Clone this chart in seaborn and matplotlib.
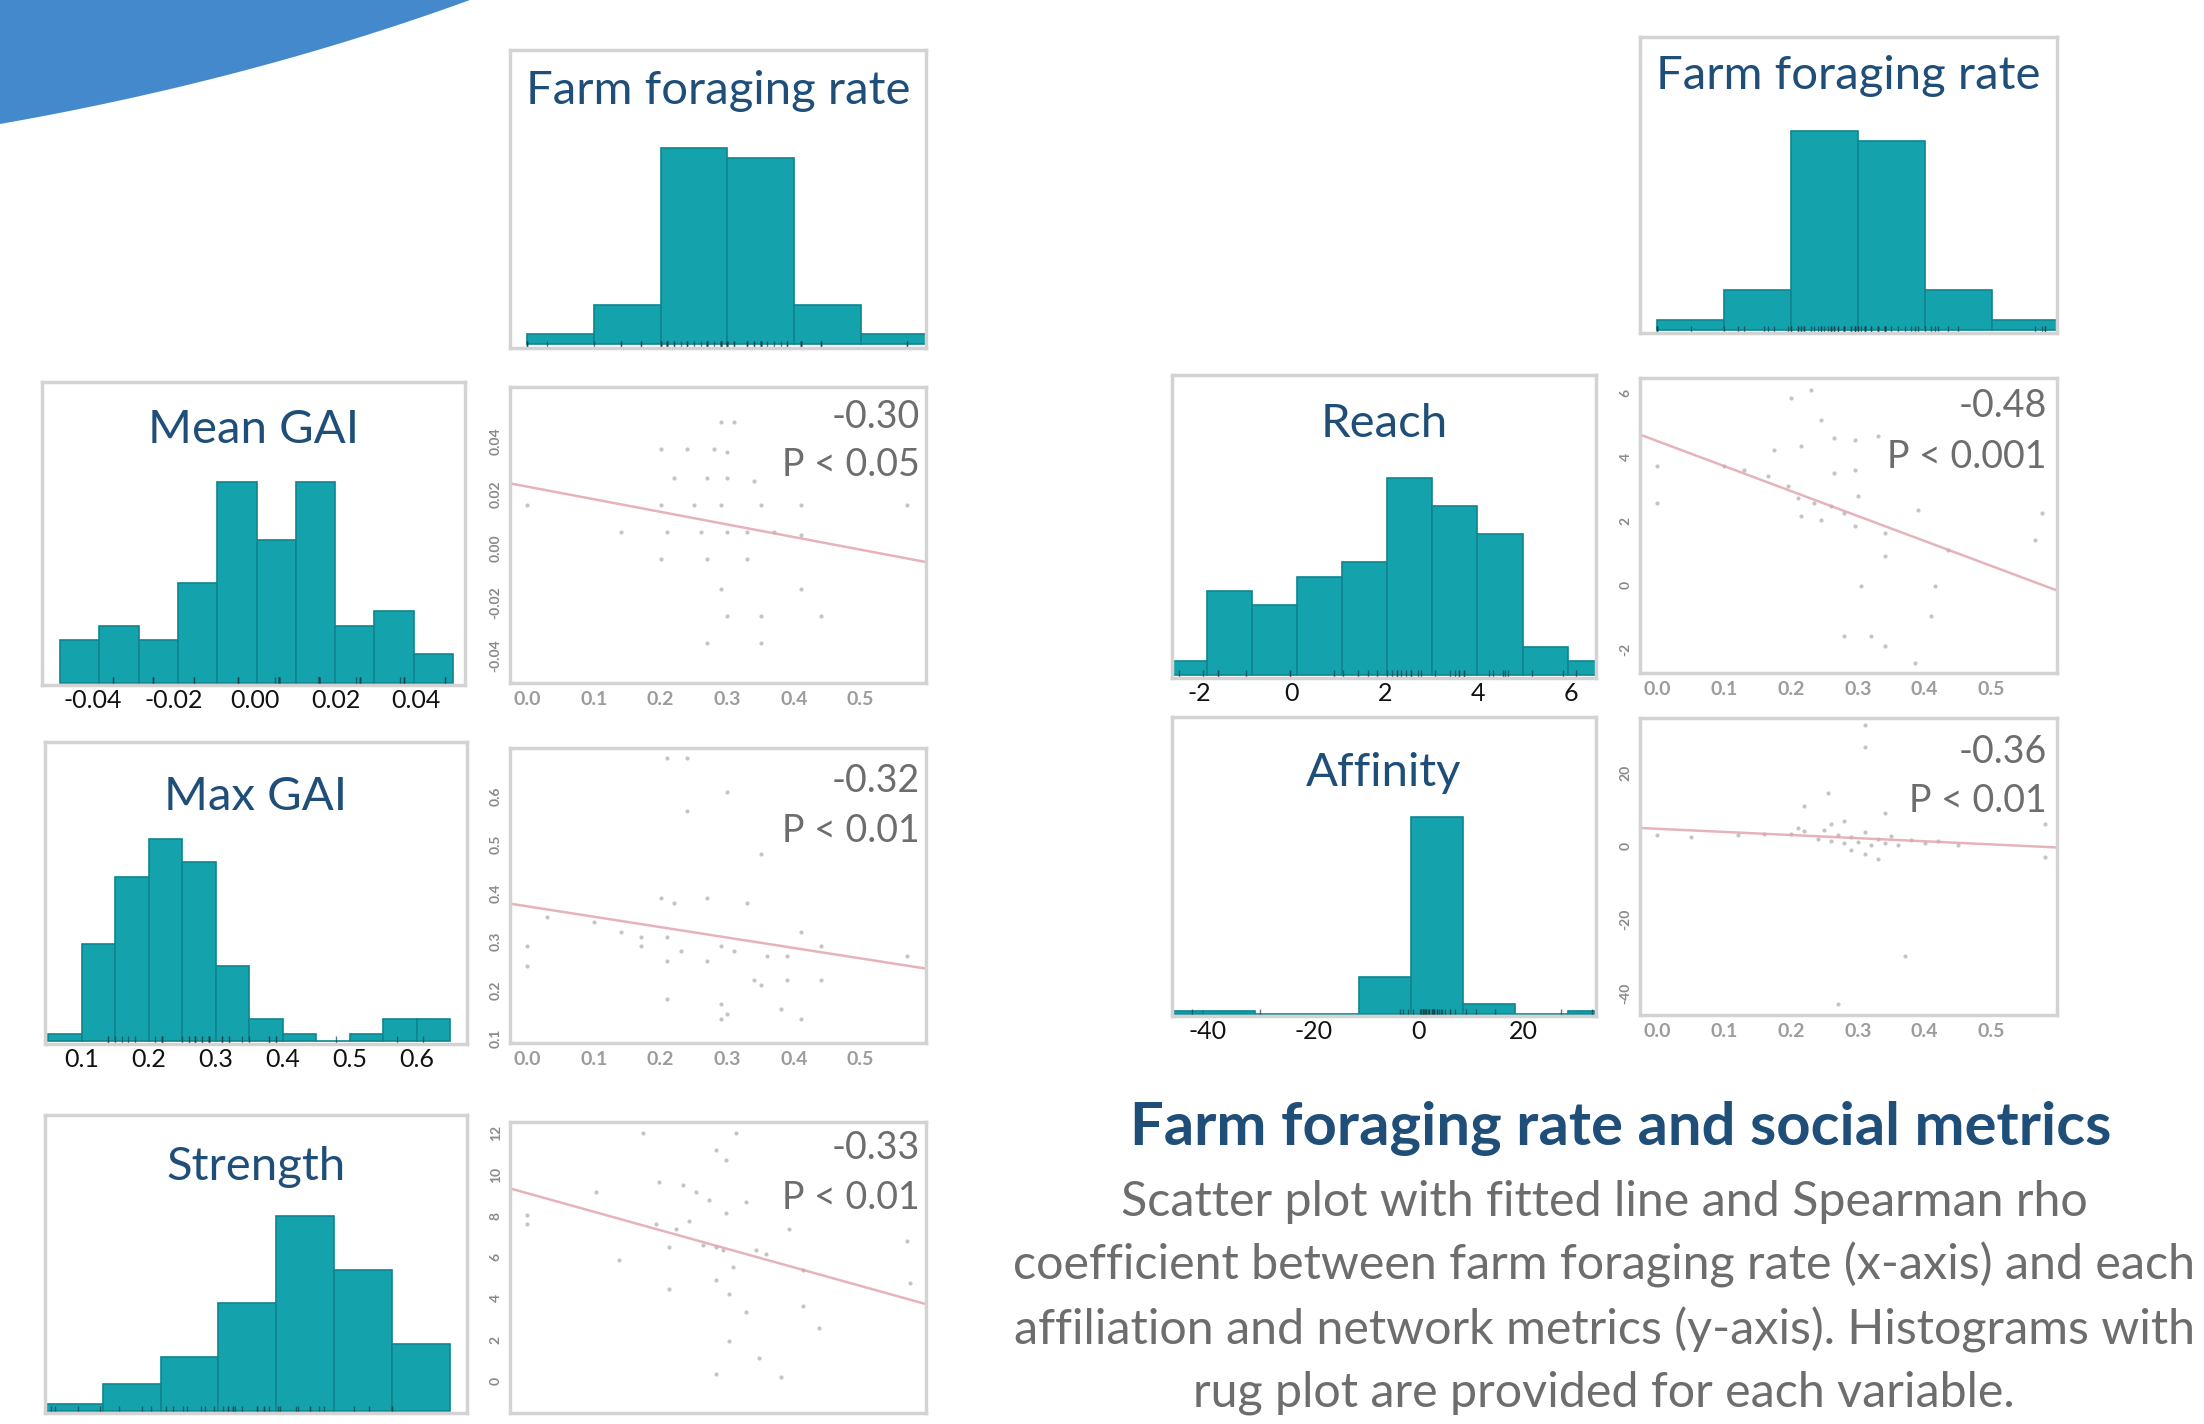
import numpy as np
import pandas as pd
import matplotlib
matplotlib.use("Agg")
import matplotlib.pyplot as plt
from matplotlib.patches import Polygon
import seaborn as sns

# ---------------- data ----------------
ffr_edges = [0.0, 0.1, 0.2, 0.3, 0.4, 0.5, 0.6]
ffr_counts = [1, 4, 20, 19, 4, 1]

mean_gai_edges = [-0.048, -0.0383, -0.0286, -0.0189, -0.0092, 0.0005, 0.0102, 0.0199, 0.0296, 0.0393, 0.049]
mean_gai_counts = [3, 4, 3, 7, 14, 10, 14, 4, 5, 2]
mean_gai_ticks = [-0.04, -0.02, 0.00, 0.02, 0.04]

max_gai_edges = [0.05, 0.10, 0.15, 0.20, 0.25, 0.30, 0.35, 0.40, 0.45, 0.50, 0.55, 0.60, 0.65]
max_gai_counts = [1, 13, 22, 27, 24, 10, 3, 1, 0, 1, 3, 3]
max_gai_ticks = [0.1, 0.2, 0.3, 0.4, 0.5, 0.6]

strength_edges = [0, 2, 4, 6, 8, 10, 12, 14]
strength_counts = [1, 4, 8, 16, 29, 21, 10]

reach_edges = [-2.8, -1.83, -0.86, 0.11, 1.08, 2.05, 3.02, 3.99, 4.96, 5.93, 6.9]
reach_counts = [1, 6, 5, 7, 8, 14, 12, 10, 2, 1]
reach_ticks = [-2, 0, 2, 4, 6]

affinity_edges = [-50.9, -41.0, -31.1, -21.2, -11.3, -1.4, 8.5, 18.4, 28.3, 38.2]
affinity_counts = [1, 1, 0, 0, 11, 59, 3, 0, 1]
affinity_ticks = [-40, -20, 0, 20]

# scatter points (farm foraging rate vs metric)
mean_gai_x = [0.29, 0.31, 0.20, 0.24, 0.28, 0.30, 0.22, 0.27, 0.30, 0.34, 0.20, 0.25, 0.29, 0.35, 0.41, 0.00, 0.57,
              0.14, 0.21, 0.26, 0.30, 0.33, 0.37, 0.41, 0.20, 0.27, 0.33, 0.29, 0.41, 0.30, 0.35, 0.44, 0.27, 0.35]
mean_gai_y = [0.047, 0.047, 0.037, 0.037, 0.037, 0.036, 0.026, 0.026, 0.026, 0.025, 0.016, 0.016, 0.016, 0.016, 0.016,
              0.016, 0.016, 0.006, 0.006, 0.006, 0.006, 0.006, 0.006, 0.005, -0.004, -0.004, -0.004, -0.015, -0.015,
              -0.025, -0.025, -0.025, -0.035, -0.035]

max_gai_x = [0.21, 0.24, 0.30, 0.24, 0.35, 0.20, 0.22, 0.27, 0.33, 0.03, 0.10, 0.14, 0.17, 0.17, 0.21, 0.23, 0.29,
             0.31, 0.41, 0.44, 0.36, 0.39, 0.00, 0.00, 0.21, 0.27, 0.34, 0.35, 0.39, 0.44, 0.57, 0.21, 0.29, 0.30,
             0.38, 0.41, 0.29]
max_gai_y = [0.68, 0.68, 0.61, 0.57, 0.48, 0.39, 0.38, 0.39, 0.38, 0.35, 0.34, 0.32, 0.31, 0.29, 0.31, 0.28, 0.29,
             0.28, 0.32, 0.29, 0.27, 0.27, 0.29, 0.25, 0.26, 0.26, 0.22, 0.21, 0.22, 0.22, 0.27, 0.18, 0.17, 0.15,
             0.16, 0.14, 0.14]

strength_x = [0.283, 0.298, 0.313, 0.173, 0.198, 0.233, 0.253, 0.273, 0.328, 0.298, 0.243, 0.193, 0.223, 0.263,
              0.283, 0.213, 0.293, 0.343, 0.358, 0.393, 0.413, 0.308, 0.213, 0.283, 0.303, 0.328, 0.413, 0.438,
              0.303, 0.348, 0.283, 0.138, 0.0, 0.0, 0.103, 0.569, 0.574, 0.381]
strength_y = [11.2, 10.7, 12.0, 12.0, 9.64, 9.48, 9.17, 8.77, 8.69, 8.14, 7.75, 7.59, 7.35, 6.57, 6.49, 6.49, 6.33,
              6.33, 6.17, 7.35, 5.39, 5.54, 4.44, 4.91, 4.2, 3.34, 3.65, 2.55, 1.92, 1.13, 0.35, 5.86, 8.06, 7.59,
              9.17, 6.8, 4.76, 0.2]

reach_x = [0.20, 0.23, 0.245, 0.265, 0.295, 0.33, 0.175, 0.215, 0.10, 0.13, 0.165, 0.195, 0.21, 0.235, 0.26, 0.28,
           0.295, 0.30, 0.265, 0.295, 0.215, 0.245, 0.34, 0.34, 0.305, 0.415, 0.435, 0.41, 0.28, 0.32, 0.34, 0.385,
           0.0, 0.0, 0.575, 0.565, 0.39]
reach_y = [5.84, 6.1, 5.17, 4.59, 4.54, 4.65, 4.23, 4.33, 3.71, 3.6, 3.4, 3.08, 2.72, 2.56, 2.46, 2.25, 1.83, 2.77,
           3.5, 3.6, 2.15, 2.04, 1.63, 0.9, -0.04, -0.04, 1.1, -0.98, -1.6, -1.6, -1.92, -2.44, 3.71, 2.56, 2.25,
           1.42, 2.35]

affinity_x = [0.20, 0.22, 0.24, 0.25, 0.26, 0.27, 0.28, 0.29, 0.30, 0.31, 0.32, 0.33, 0.34, 0.35, 0.36, 0.38, 0.40,
              0.42, 0.45, 0.12, 0.16, 0.21, 0.26, 0.29, 0.31, 0.33, 0.255, 0.22, 0.31, 0.31, 0.37, 0.27, 0.58, 0.58,
              0.00, 0.05, 0.28, 0.34]
affinity_y = [3.5, 4.2, 2.0, 4.5, 1.5, 3.0, 0.8, 2.5, 1.2, 3.8, 0.5, 2.0, 1.0, 2.8, 0.3, 1.8, 0.9, 1.5, 0.5, 3.0, 3.5,
              5.0, 6.0, -1.0, -2.0, -3.5, 14.5, 11.0, 27.0, 33.0, -30.0, -43.0, 6.0, -3.0, 3.0, 2.5, 7.0, 9.0]

rho_labels = ["-0.30", "-0.32", "-0.33", "-0.48", "-0.36"]
p_labels = ["P < 0.05", "P < 0.01", "P < 0.01", "P < 0.001", "P < 0.01"]
panel_titles = ["Farm foraging rate", "Mean GAI", "Max GAI", "Strength", "Reach", "Affinity"]
scatter_xticks = [0.0, 0.1, 0.2, 0.3, 0.4, 0.5]

caption_title = "Farm foraging rate and social metrics"
caption_lines = ["Scatter plot with fitted line and Spearman rho",
                 "coefficient between farm foraging rate (x-axis) and each",
                 "affiliation and network metrics (y-axis). Histograms with",
                 "rug plot are provided for each variable."]

# ---------------- style ----------------
sns.set_theme(style="white")
plt.rcParams["font.family"] = ["Lato", "DejaVu Sans"]

W, H = 2204, 1424
fig = plt.figure(figsize=(W / 100, H / 100), dpi=100)
fig.patch.set_facecolor("white")

TEAL = "#14a3ad"
TEAL_EDGE = "#0e858f"
NAVY = "#1f4e79"
GREY_TXT = "#6d6d6d"
SPINE = "#d3d3d3"


def px_axes(x0, y0, x1, y1):
    return fig.add_axes([x0 / W, 1 - y1 / H, (x1 - x0) / W, (y1 - y0) / H])


def style_spines(ax):
    for s in ax.spines.values():
        s.set_visible(True)
        s.set_color(SPINE)
        s.set_linewidth(2.5)


def hist_panel(rect, edges, counts, xlim, ylim, title, title_y, ticks, rug, tickfmt):
    ax = px_axes(*rect)
    centers = [(a + b) / 2 for a, b in zip(edges[:-1], edges[1:])]
    sns.histplot(x=centers, weights=counts, bins=edges, ax=ax, color=TEAL, alpha=1,
                 edgecolor=TEAL_EDGE, linewidth=1.2)
    if rug is not None:
        sns.rugplot(x=rug, ax=ax, height=0.025, color="#17414a", lw=1.3, alpha=0.7)
    ax.set_xlim(*xlim)
    ax.set_ylim(*ylim)
    ax.set_xlabel("")
    ax.set_ylabel("")
    ax.set_yticks([])
    if ticks is not None:
        ax.set_xticks(ticks)
        ax.set_xticklabels([tickfmt(t) for t in ticks], fontsize=18, color="#111111")
        ax.tick_params(axis="x", length=0, pad=3)
    else:
        ax.set_xticks([])
    style_spines(ax)
    ax.text(0.5, title_y, title, transform=ax.transAxes, ha="center", va="center",
            fontsize=34, color=NAVY)
    return ax


def scatter_panel(rect, x, y, xlim, ylim, yticks, yfmt, rho, p, tx, ty1, ty2, show_x=True):
    ax = px_axes(*rect)
    ax.set_xlim(*xlim)
    ax.set_ylim(*ylim)
    sns.regplot(x=x, y=y, ax=ax, ci=None, truncate=False,
                scatter_kws=dict(s=9, color="#7d7d7d", alpha=0.45, linewidths=0),
                line_kws=dict(color="#e2a6b0", lw=1.8, alpha=0.85))
    ax.set_xlim(*xlim)
    ax.set_ylim(*ylim)
    ax.set_xlabel("")
    ax.set_ylabel("")
    ax.set_xticks(scatter_xticks)
    if show_x:
        ax.set_xticklabels([f"{t:.1f}" for t in scatter_xticks], fontsize=14, color="#9c9c9c",
                           fontweight="bold")
    else:
        ax.set_xticklabels([])
    ax.set_yticks(yticks)
    ax.set_yticklabels([yfmt(t) for t in yticks], fontsize=10, color="#8a8a8a",
                       rotation=90, va="center", fontweight="bold")
    ax.tick_params(axis="both", length=3, width=1, color="#c8c8c8", pad=3)
    style_spines(ax)
    ax.text(tx, ty1, rho, transform=ax.transAxes, ha="right", va="center",
            fontsize=27, color=GREY_TXT)
    ax.text(tx, ty2, p, transform=ax.transAxes, ha="right", va="center",
            fontsize=27, color=GREY_TXT)
    return ax


SC_XLIM = (-0.026, 0.598)

# ---------------- left column ----------------
hist_panel((510, 50, 926, 348), ffr_edges, ffr_counts, SC_XLIM, (-0.4, 30),
           panel_titles[0], 0.862, None, mean_gai_x + max_gai_x, None)
hist_panel((42, 382, 465, 685), mean_gai_edges, mean_gai_counts, (-0.0525, 0.052), (-0.15, 21),
           panel_titles[1], 0.84, mean_gai_ticks, mean_gai_y, lambda t: f"{t:.2f}")
scatter_panel((510, 387, 926, 683), mean_gai_x, mean_gai_y, SC_XLIM, (-0.05, 0.06),
              [-0.04, -0.02, 0.0, 0.02, 0.04], lambda t: f"{t:.2f}",
              rho_labels[0], p_labels[0], 0.985, 0.90, 0.735)

hist_panel((45, 742, 467, 1044), max_gai_edges, max_gai_counts, (0.0455, 0.675), (-0.4, 40),
           panel_titles[2], 0.817, max_gai_ticks, max_gai_y, lambda t: f"{t:.1f}")
scatter_panel((510, 748, 926, 1043), max_gai_x, max_gai_y, SC_XLIM, (0.09, 0.70),
              [0.1, 0.2, 0.3, 0.4, 0.5, 0.6], lambda t: f"{t:.1f}",
              rho_labels[1], p_labels[1], 0.985, 0.888, 0.72)

hist_panel((45, 1115, 467, 1413), strength_edges, strength_counts, (0, 14.6), (-0.3, 44),
           panel_titles[3], 0.825, None, strength_y, None)
scatter_panel((510, 1122, 926, 1413), strength_x, strength_y, SC_XLIM, (-1.56, 12.55),
              [0, 2, 4, 6, 8, 10, 12], lambda t: f"{t:d}",
              rho_labels[2], p_labels[2], 0.985, 0.91, 0.74, show_x=False)

# ---------------- right column ----------------
hist_panel((1640, 37, 2057, 333), ffr_edges, ffr_counts, SC_XLIM, (-0.3, 29.4),
           panel_titles[0], 0.868, None, reach_x + affinity_x, None)
hist_panel((1172, 375, 1596, 678), reach_edges, reach_counts, (-2.58, 6.54), (-0.2, 21.3),
           panel_titles[4], 0.838, reach_ticks, reach_y, lambda t: f"{t:d}")
scatter_panel((1640, 378, 2057, 673), reach_x, reach_y, SC_XLIM, (-2.75, 6.47),
              [-2, 0, 2, 4, 6], lambda t: f"{t:d}",
              rho_labels[3], p_labels[3], 0.975, 0.905, 0.732)

hist_panel((1172, 717, 1596, 1016), affinity_edges, affinity_counts, (-46.8, 33.7), (-0.5, 88.7),
           panel_titles[5], 0.812, affinity_ticks, affinity_y, lambda t: f"{t:d}")
scatter_panel((1640, 718, 2057, 1015), affinity_x, affinity_y, SC_XLIM, (-46, 35),
              [-40, -20, 0, 20], lambda t: f"{t:d}",
              rho_labels[4], p_labels[4], 0.975, 0.886, 0.72)

# ---------------- caption ----------------
fig.text(1621 / W, 1 - 1129 / H, caption_title, ha="center", va="center",
         fontsize=43, fontweight="bold", color=NAVY)
for yy, line in zip([1202, 1265, 1330, 1393], caption_lines):
    fig.text(1604 / W, 1 - yy / H, line, ha="center", va="center", fontsize=34.8, color=GREY_TXT)

# ---------------- decorative blue corner ----------------
t = np.linspace(0, 1, 40)
p0 = np.array([0, H - 124]); p1 = np.array([250, H - 80]); p2 = np.array([470, H])
curve = ((1 - t) ** 2)[:, None] * p0 + (2 * (1 - t) * t)[:, None] * p1 + (t ** 2)[:, None] * p2
pts = np.vstack([[[0, H]], curve])
fig.patches.append(Polygon(pts / np.array([W, H]), closed=True, transform=fig.transFigure,
                           facecolor="#4489cc", edgecolor="none", zorder=10))

fig.savefig("out.png", dpi=100, facecolor="white")
